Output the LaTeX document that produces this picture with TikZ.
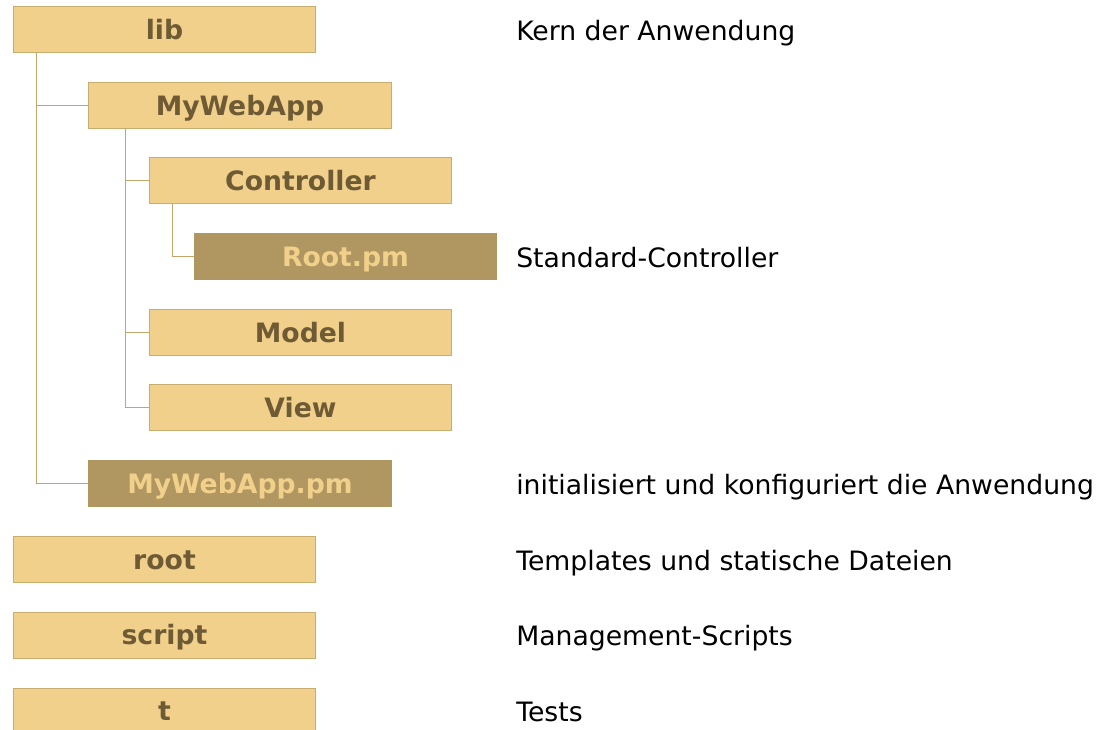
\documentclass[tikz,border=0pt]{standalone}
\usepackage{fontspec}
\setmainfont{DejaVu Sans}
\definecolor{boxfill}{RGB}{240,208,138}
\definecolor{boxline}{RGB}{200,172,112}
\definecolor{filefill}{RGB}{176,150,96}
\definecolor{boxtext}{RGB}{110,90,52}
\definecolor{treeline}{RGB}{196,166,108}
\begin{document}
\begin{tikzpicture}[x=0.75pt,y=-0.75pt,
  dirbox/.style={draw=boxline,line width=0.75pt,fill=boxfill,text=boxtext,
    minimum width=227pt,minimum height=34.5pt,inner sep=0pt,
    font=\fontsize{20}{24}\selectfont\bfseries,text height=14.6pt,text depth=0pt},
  filebox/.style={dirbox,draw=filefill,fill=filefill,text=boxfill},
  note/.style={anchor=west,inner sep=0pt,font=\fontsize{20}{24}\selectfont,
    text height=14.6pt,text depth=0pt},
  conn/.style={draw=treeline,line width=0.75pt}]
\useasboundingbox (0,0) rectangle (1096,730);

% directory tree boxes
\node[dirbox]  (lib)   at (164.5,30)  {lib};
\node[dirbox]  (mwa)   at (240,105.5) {MyWebApp};
\node[dirbox]  (ctrl)  at (300.5,181) {Controller};
\node[filebox] (rootpm) at (345.5,257) {Root.pm};
\node[dirbox]  (model) at (300.5,332.5) {Model};
\node[dirbox]  (view)  at (300.5,408) {View};
\node[filebox] (mwapm) at (240,484)   {MyWebApp.pm};
\node[dirbox]  (root)  at (164.5,559.5) {root};
\node[dirbox]  (script) at (164.5,635) {script};
\node[dirbox]  (t)     at (164.5,711) {t};

% tree connectors
\draw[conn] ([xshift=18pt]lib.south west) |- (mwa.west);
\draw[conn] ([xshift=18pt]lib.south west) |- (mwapm.west);
\draw[conn] ([xshift=27.75pt]mwa.south west) |- (ctrl.west);
\draw[conn] ([xshift=27.75pt]mwa.south west) |- (model.west);
\draw[conn] ([xshift=27.75pt]mwa.south west) |- (view.west);
\draw[conn] ([xshift=18pt]ctrl.south west) |- (rootpm.west);

% descriptions
\node[note] (n1) at (516,31)    {Kern der Anwendung};
\node[note] (n2) at (516,258)   {Standard-Controller};
\node[note] (n3) at (516,485)   {initialisiert und konfiguriert die Anwendung};
\node[note] (n4) at (516,560.5) {Templates und statische Dateien};
\node[note] (n5) at (516,636)   {Management-Scripts};
\node[note] (n6) at (516,712)   {Tests};
\end{tikzpicture}
\end{document}
